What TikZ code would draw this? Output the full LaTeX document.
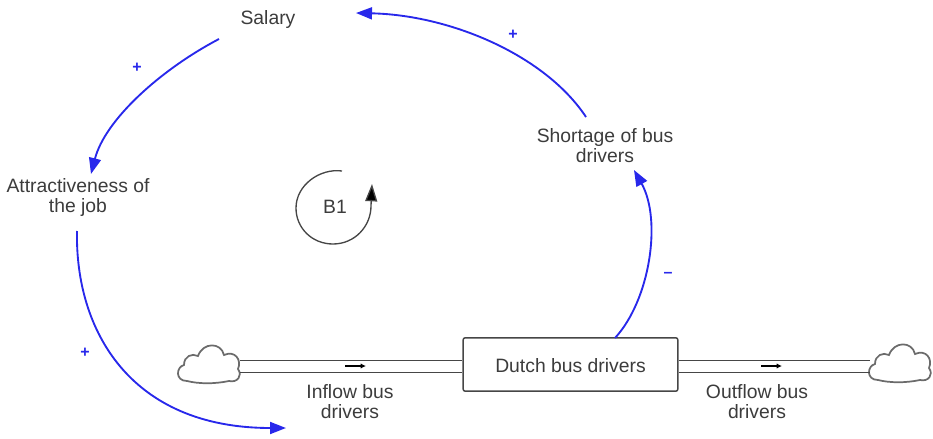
\documentclass[tikz,border=0pt]{standalone}
\usepackage{fontspec}
\setmainfont{Liberation Sans}
\usetikzlibrary{arrows.meta}
\definecolor{linkblue}{RGB}{40,40,235}
\definecolor{txt}{RGB}{60,60,60}
\definecolor{pipe}{RGB}{70,70,70}
\tikzset{
  var/.style={text=txt, font=\fontsize{14.5}{15}\selectfont, align=center, inner sep=1pt},
  link/.style={draw=linkblue, line width=1.4pt, -{Triangle[length=12pt,width=9pt]}},
  pol/.style={text=linkblue, font=\fontsize{12}{12}\selectfont\bfseries, inner sep=0pt},
  stockbox/.style={draw=pipe, line width=1.1pt, fill=white, rounded corners=1.5pt, minimum width=161pt, minimum height=40pt, inner sep=0pt},
  pipeline/.style={draw=pipe, line width=1pt},
  cloudline/.style={draw=pipe!80, line width=1.3pt, fill=white},
  flowarr/.style={draw=black, line width=0.8pt, -{Latex[length=4pt,width=4pt]}},
}
\begin{document}
\begin{tikzpicture}[x=0.75pt,y=-0.75pt]
\useasboundingbox (0,0) rectangle (933,439);

% clouds
\def\cloudpath{(-22,17) .. controls (-34,17) and (-33,3) .. (-25,1)
  .. controls (-25,-8) and (-17,-11) .. (-11,-8)
  .. controls (-6,-22) and (12,-22) .. (15,-9)
  .. controls (26,-14) and (33,-4) .. (29,5)
  .. controls (34,12) and (28,19) .. (20,17)
  .. controls (6,20) and (-10,20) .. (-22,17) -- cycle}
\begin{scope}[shift={(209,364)}]
  \path[cloudline] \cloudpath;
  \coordinate (cl) at (31,2);
\end{scope}
\begin{scope}[shift={(900,363)}]
  \path[cloudline] \cloudpath;
  \coordinate (cr) at (-29,2);
\end{scope}

% stock
\node[stockbox] (stock) at (570.5,364.5) {};
\node[var] (stocklbl) at (570.5,366) {Dutch bus drivers};

% pipes
\draw[pipeline] (240,360.5) -- (stock.west |- 0,360.5);
\draw[pipeline] (240,372.5) -- (stock.west |- 0,372.5);
\draw[pipeline] (stock.east |- 0,360.5) -- (870,360.5);
\draw[pipeline] (stock.east |- 0,372.5) -- (870,372.5);
\coordinate (fi1) at (345,366); \coordinate (fi2) at (366,366);
\coordinate (fo1) at (761,366); \coordinate (fo2) at (782,366);
\draw[flowarr] (fi1) -- (fi2);
\draw[flowarr] (fo1) -- (fo2);

% variables
\node[var] (sal) at (268,20) {Salary};
\node[var] (att) at (78,198) {Attractiveness of\\the job};
\node[var] (short) at (605,146) {Shortage of bus\\drivers};
\node[var] (inflow) at (350,402) {Inflow bus\\drivers};
\node[var] (outflow) at (757,402) {Outflow bus\\drivers};

% loop marker
\node[var] (b1) at (335,207) {B1};
\draw[draw=pipe, line width=1pt, -{Triangle[length=13pt,width=9pt,fill=black]}]
  (342,171) .. controls (320,168) and (296,185) .. (296,208)
  .. controls (296,228) and (312,244) .. (333,244)
  .. controls (355,244) and (371,226) .. (371,206)
  -- (372,184);

% links
\coordinate (l1s) at (219,39); \coordinate (l1e) at (91,174);
\draw[link] (l1s) .. controls (160,70) and (105,120) .. (l1e);
\coordinate (l2s) at (77,231); \coordinate (l2e) at (286,428);
\draw[link] (l2s) .. controls (75,330) and (130,428) .. (l2e);
\coordinate (l3s) at (615,338); \coordinate (l3e) at (634,170);
\draw[link] (l3s) .. controls (650,300) and (662,220) .. (l3e);
\coordinate (l4s) at (586,117); \coordinate (l4e) at (356,13);
\draw[link] (l4s) .. controls (545,55) and (450,15) .. (l4e);

% polarities
\node[pol] (p1) at (137,68) {+};
\node[pol] (p2) at (85,353) {+};
\node[pol] (p3) at (668,275) {--};
\node[pol] (p4) at (513,35) {+};
\end{tikzpicture}
\end{document}
